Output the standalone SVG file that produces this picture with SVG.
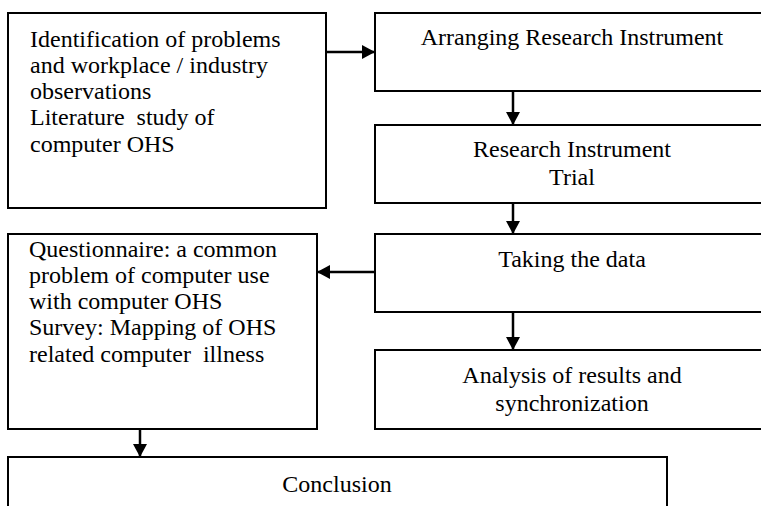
<svg xmlns="http://www.w3.org/2000/svg" width="761" height="506" viewBox="0 0 761 506">
<style>
.box{fill:#fff;stroke:#000;stroke-width:2}
text{font-family:'Liberation Serif','Times New Roman',serif;font-size:24px;fill:#000}
.c{text-anchor:middle}
.ln{stroke:#000;stroke-width:2.5;fill:none}
</style>
<defs>
<marker id="ah" markerWidth="14" markerHeight="14" refX="13" refY="7" orient="auto" markerUnits="userSpaceOnUse">
<path d="M0,0 L13,7 L0,14 Z" fill="#000"/>
</marker>
</defs>
<g id="n1"><rect class="box" x="8" y="13" width="318" height="195"/>
<text x="30" y="47">Identification of problems</text>
<text x="30" y="73">and workplace / industry</text>
<text x="30" y="99">observations</text>
<text x="30" y="125" xml:space="preserve">Literature  study of</text>
<text x="30" y="152">computer OHS</text></g>
<g id="n2"><rect class="box" x="375" y="13" width="394" height="78"/>
<text class="c" x="572" y="45">Arranging Research Instrument</text></g>
<g id="n3"><rect class="box" x="375" y="125" width="394" height="78"/>
<text class="c" x="572" y="157">Research Instrument</text>
<text class="c" x="572" y="185">Trial</text></g>
<g id="n4"><rect class="box" x="375" y="234" width="394" height="78"/>
<text class="c" x="572" y="267">Taking the data</text></g>
<g id="n5"><rect class="box" x="375" y="350" width="394" height="79"/>
<text class="c" x="572" y="383">Analysis of results and</text>
<text class="c" x="572" y="411">synchronization</text></g>
<g id="n6"><rect class="box" x="8" y="234" width="309" height="195"/>
<text x="29" y="257">Questionnaire: a common</text>
<text x="29" y="283">problem of computer use</text>
<text x="29" y="309">with computer OHS</text>
<text x="29" y="335">Survey: Mapping of OHS</text>
<text x="29" y="362" xml:space="preserve">related computer  illness</text></g>
<g id="n7"><rect class="box" x="8" y="457" width="659" height="60"/>
<text class="c" x="337" y="492">Conclusion</text></g>
<g id="connectors">
<line class="ln" x1="326" y1="52" x2="375" y2="52" marker-end="url(#ah)"/>
<line class="ln" x1="513" y1="91" x2="513" y2="125" marker-end="url(#ah)"/>
<line class="ln" x1="513" y1="203" x2="513" y2="234" marker-end="url(#ah)"/>
<line class="ln" x1="513" y1="312" x2="513" y2="350" marker-end="url(#ah)"/>
<line class="ln" x1="375" y1="272" x2="317" y2="272" marker-end="url(#ah)"/>
<line class="ln" x1="140" y1="429" x2="140" y2="457" marker-end="url(#ah)"/>
</g>
</svg>
